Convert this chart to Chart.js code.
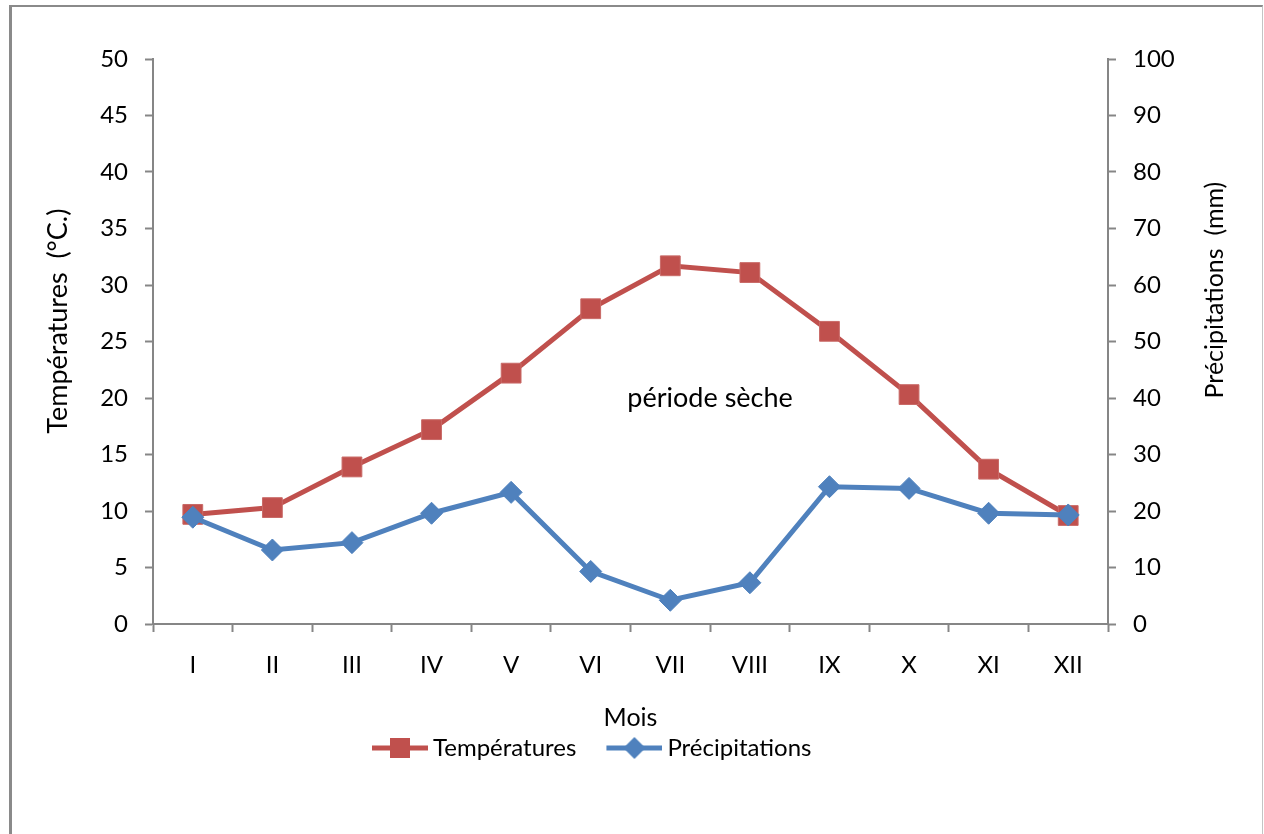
<!DOCTYPE html>
<html lang="fr">
<head>
<meta charset="utf-8">
<title>Diagramme ombrothermique</title>
<script src="https://cdn.jsdelivr.net/npm/chart.js@4.4.1/dist/chart.umd.min.js"></script>
<style>
  html, body { margin: 0; padding: 0; background: #fff; }
  #wrap { position: relative; width: 1264px; height: 834px; overflow: hidden; }
  #chart { position: absolute; left: 0; top: 0; }
  #frame {
    position: absolute; left: 9px; top: 5px; width: 1254px; height: 900px;
    box-sizing: border-box; pointer-events: none;
    border-left: 3px solid #8a8a8a; border-top: 2px solid #8a8a8a; border-right: 1px solid #c4c4c4;
  }
</style>
</head>
<body>
<div id="wrap">
  <canvas id="chart" width="1264" height="834"></canvas>
  <div id="frame"></div>
</div>
<script>
// Mois de l'année
const months = ['I', 'II', 'III', 'IV', 'V', 'VI', 'VII', 'VIII', 'IX', 'X', 'XI', 'XII'];
// Températures moyennes mensuelles (°C)
const temperatures = [9.7, 10.3, 13.9, 17.2, 22.2, 27.9, 31.7, 31.1, 25.9, 20.3, 13.7, 9.6];
// Précipitations moyennes mensuelles (mm)
const precipitations = [18.9, 13.1, 14.4, 19.6, 23.3, 9.3, 4.2, 7.3, 24.3, 24.0, 19.6, 19.3];
// Graduations des axes : [min, max, pas]
const tempAxis = [0, 50, 5];
const precipAxis = [0, 100, 10];

const RED = '#C0504D';
const BLUE = '#4F81BD';
const AXIS = '#868686';
const FONT = 'Lato, "Open Sans", sans-serif';

Chart.defaults.font.family = FONT;
Chart.defaults.color = '#000';

// Legend symbol: a short line with the series marker in its middle
function legendSymbol(color, shape) {
  const c = document.createElement('canvas');
  c.width = 93; c.height = 24;
  const g = c.getContext('2d');
  g.strokeStyle = color; g.lineWidth = 5;
  g.beginPath(); g.moveTo(37, 12); g.lineTo(93, 12); g.stroke();
  g.fillStyle = color;
  if (shape === 'square') {
    g.fillRect(55, 2, 20, 20);
  } else {
    g.beginPath();
    g.moveTo(65, 1); g.lineTo(76, 12); g.lineTo(65, 23); g.lineTo(54, 12);
    g.closePath(); g.fill();
  }
  return c;
}
const tempSymbol = legendSymbol(RED, 'square');
const precipSymbol = legendSymbol(BLUE, 'diamond');

// Axis titles (both read bottom-to-top) and the "période sèche" note
const textPlugin = {
  id: 'chartTexts',
  afterLayout(chart) {
    // place the legend block under the plot, slightly left of centre
    chart.legend.left = chart.chartArea.left + 189;
  },
  afterDraw(chart) {
    const {ctx, scales} = chart;
    ctx.save();
    ctx.fillStyle = '#000';
    ctx.textAlign = 'center';
    ctx.textBaseline = 'middle';

    ctx.font = '27px ' + FONT;
    ctx.save();
    ctx.translate(scales.yTemp.left + 48, scales.yTemp.getPixelForValue(26.8));
    ctx.rotate(-Math.PI / 2);
    ctx.fillText('Températures  (°C.)', 0, 0);
    ctx.restore();

    ctx.font = '25px ' + FONT;
    ctx.save();
    ctx.translate(scales.yPrecip.right - 39, scales.yPrecip.getPixelForValue(59.1));
    ctx.rotate(-Math.PI / 2);
    ctx.fillText('Précipitations  (mm)', 0, 0);
    ctx.restore();

    ctx.font = '27px ' + FONT;
    ctx.fillText('période sèche', scales.x.getPixelForValue(6.5), scales.yTemp.getPixelForValue(20));
    ctx.restore();
  }
};

new Chart(document.getElementById('chart'), {
  type: 'line',
  data: {
    labels: months,
    datasets: [
      {
        label: 'Températures',
        data: temperatures,
        yAxisID: 'yTemp',
        borderColor: RED,
        backgroundColor: RED,
        borderWidth: 5,
        pointStyle: 'rect',
        pointRadius: 14,
        pointHoverRadius: 14,
        pointBorderWidth: 1,
        pointBorderColor: '#c96a67',
        tension: 0,
        order: 2
      },
      {
        label: 'Précipitations',
        data: precipitations,
        yAxisID: 'yPrecip',
        borderColor: BLUE,
        backgroundColor: BLUE,
        borderWidth: 5,
        pointStyle: 'rectRot',
        pointRadius: 11,
        pointHoverRadius: 11,
        pointBorderWidth: 1,
        pointBorderColor: BLUE,
        tension: 0,
        order: 1
      }
    ]
  },
  options: {
    responsive: false,
    devicePixelRatio: 1,
    animation: false,
    events: [],
    layout: { padding: { top: 59, left: 10, right: 10, bottom: 64 } },
    plugins: {
      tooltip: { enabled: false },
      legend: {
        position: 'bottom',
        align: 'start',
        labels: {
          usePointStyle: true,
          pointStyleWidth: 79,
          padding: 0,
          font: { size: 24 },
          color: '#000',
          generateLabels() {
            return [
              { text: 'Températures', pointStyle: tempSymbol, fillStyle: RED, strokeStyle: RED, lineWidth: 0, datasetIndex: 0 },
              { text: 'Précipitations', pointStyle: precipSymbol, fillStyle: BLUE, strokeStyle: BLUE, lineWidth: 0, datasetIndex: 1 }
            ];
          }
        }
      }
    },
    scales: {
      x: {
        type: 'category',
        offset: true,
        grid: { offset: true, drawOnChartArea: false, drawTicks: true, tickLength: 8, tickWidth: 2, tickColor: AXIS, color: AXIS },
        border: { display: true, color: AXIS, width: 2 },
        ticks: { font: { size: 24 }, padding: 19, maxRotation: 0, autoSkip: false, color: '#000' },
        title: { display: true, text: 'Mois', font: { size: 25, lineHeight: 1 }, padding: { top: 0, bottom: 5.5 }, color: '#000' },
        afterFit(scale) { scale.height = 112; }
      },
      yTemp: {
        type: 'linear',
        position: 'left',
        min: tempAxis[0], max: tempAxis[1],
        grid: { drawOnChartArea: false, drawTicks: true, tickLength: 8, tickWidth: 2, tickColor: AXIS, color: AXIS },
        border: { display: true, color: AXIS, width: 2 },
        ticks: { stepSize: tempAxis[2], font: { size: 24 }, padding: 17, color: '#000' },
        afterFit(scale) { scale.width = 143; }
      },
      yPrecip: {
        type: 'linear',
        position: 'right',
        min: precipAxis[0], max: precipAxis[1],
        grid: { drawOnChartArea: false, drawTicks: true, tickLength: 8, tickWidth: 2, tickColor: AXIS, color: AXIS },
        border: { display: true, color: AXIS, width: 2 },
        ticks: { stepSize: precipAxis[2], font: { size: 24 }, padding: 17, color: '#000' },
        afterFit(scale) { scale.width = 146; }
      }
    }
  },
  plugins: [textPlugin]
});
</script>
</body>
</html>
